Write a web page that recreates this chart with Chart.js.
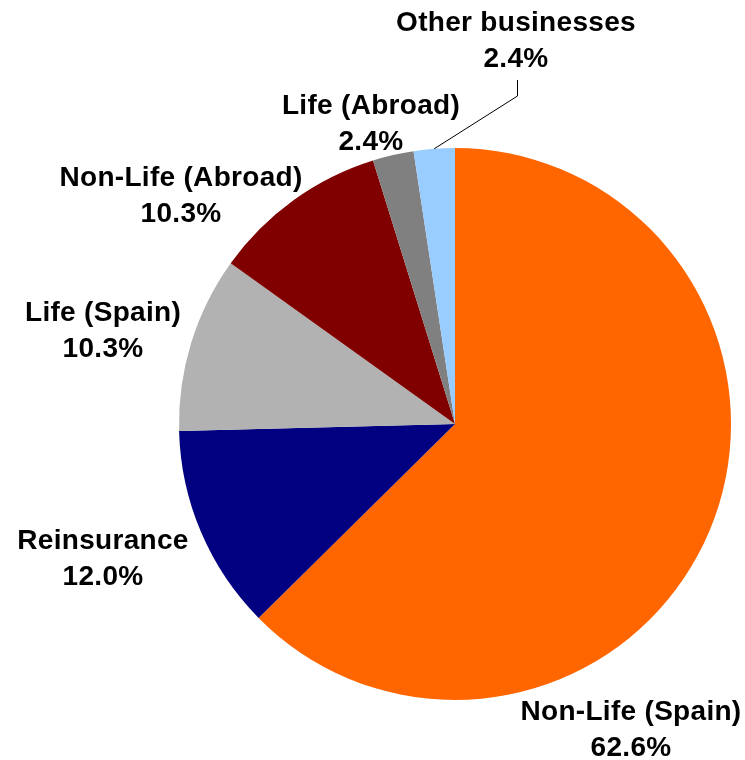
<!DOCTYPE html>
<html>
<head>
<meta charset="utf-8">
<script src="https://cdn.jsdelivr.net/npm/chart.js@4/dist/chart.umd.min.js"></script>
<style>
  html,body{margin:0;padding:0;background:#fff;}
  #wrap{width:745px;height:760px;}
</style>
</head>
<body>
<div id="wrap"><canvas id="pie" width="745" height="760"></canvas></div>
<script>
// segment data (clockwise from 12 o'clock)
const categories=["Non-Life (Spain)","Reinsurance","Life (Spain)","Non-Life (Abroad)","Life (Abroad)","Other businesses"];
const shares=[62.6,12.0,10.3,10.3,2.4,2.4];
const colors=["#FF6600","#000080","#B2B2B2","#800000","#808080","#99CCFF"];

// where each label block is centred (first line centre), px
const labelAt=[[631,712],[103,541],[103,313],[181,178],[371,106],[516,23]];

const labelPlugin={
  id:"sliceLabels",
  afterDraw(chart){
    const ctx=chart.ctx, arcs=chart.getDatasetMeta(0).data;
    ctx.save();
    ctx.fillStyle="#000";
    ctx.font="bold 28px 'Liberation Sans', Arial, sans-serif";
    if("letterSpacing" in ctx) ctx.letterSpacing="0.3px";
    ctx.textAlign="center"; ctx.textBaseline="middle";
    categories.forEach((c,i)=>{
      const [x,y]=labelAt[i];
      ctx.fillText(c,x,y);
      ctx.fillText(shares[i].toFixed(1)+"%",x,y+36);
    });
    // leader line for the last (small) slice
    const a=arcs[arcs.length-1], mid=(a.startAngle+a.endAngle)/2;
    const ex=a.x+Math.cos(mid)*a.outerRadius, ey=a.y+Math.sin(mid)*a.outerRadius;
    const lx=labelAt[labelAt.length-1][0]+1;
    ctx.strokeStyle="#000"; ctx.lineWidth=1;
    ctx.beginPath(); ctx.moveTo(lx+0.5,80); ctx.lineTo(lx+0.5,96); ctx.lineTo(ex,ey); ctx.stroke();
    ctx.restore();
  }
};

new Chart(document.getElementById("pie").getContext("2d"),{
  type:"pie",
  data:{labels:categories,datasets:[{data:shares,backgroundColor:colors,borderWidth:0}]},
  options:{
    animation:false,responsive:false,maintainAspectRatio:false,
    layout:{padding:{left:179,right:14,top:148,bottom:60}},
    plugins:{legend:{display:false},tooltip:{enabled:false}}
  },
  plugins:[labelPlugin]
});
</script>
</body>
</html>
